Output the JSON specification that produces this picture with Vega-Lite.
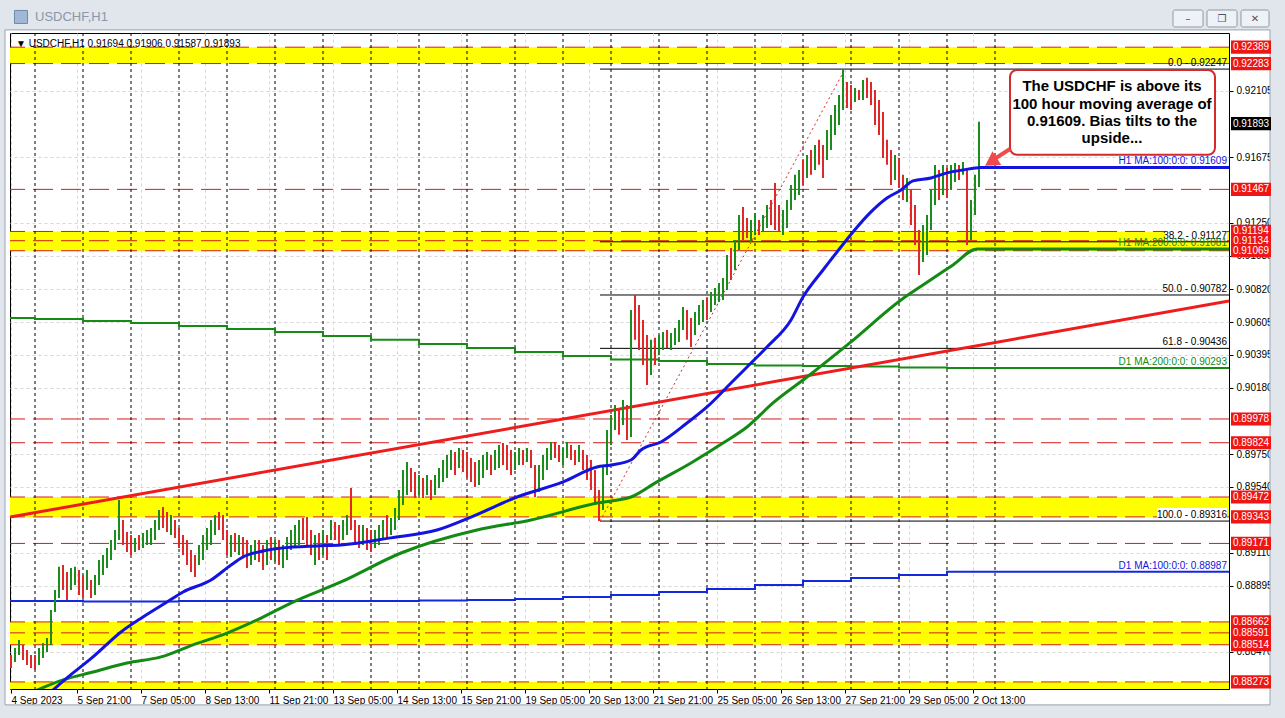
{
"$schema":"https://vega.github.io/schema/vega-lite/v6.json",
"width":1219,"height":656,
"autosize":{"type":"none"},
"padding":{"left":10,"top":33,"right":56,"bottom":29},
"background":"white",
"view":{"stroke":"#000000","strokeWidth":1},
"resolve":{"scale":{"color":"independent"},"axis":{"x":"independent","y":"independent"}},
"datasets":{
"bars":[
{"i":0,"h":0.88448,"l":0.88363,"d":0},{"i":2,"h":0.88493,"l":0.88402,"d":1},{"i":4,"h":0.88545,"l":0.88448,"d":1},{"i":6,"h":0.88513,"l":0.88415,"d":0},{"i":8,"h":0.8848,"l":0.88383,"d":0},{"i":10,"h":0.88448,"l":0.88363,"d":0},{"i":12,"h":0.88448,"l":0.8835,"d":0},{"i":14,"h":0.88493,"l":0.88383,"d":1},{"i":16,"h":0.88526,"l":0.88428,"d":1},{"i":18,"h":0.88558,"l":0.88467,"d":1},
{"i":20,"h":0.8874,"l":0.88513,"d":1},{"i":22,"h":0.88869,"l":0.88727,"d":1},{"i":24,"h":0.89019,"l":0.88817,"d":1},{"i":26,"h":0.89031,"l":0.88869,"d":0},{"i":28,"h":0.88986,"l":0.88804,"d":0},{"i":30,"h":0.89012,"l":0.88869,"d":1},{"i":32,"h":0.89019,"l":0.88902,"d":1},{"i":34,"h":0.88999,"l":0.88837,"d":0},{"i":36,"h":0.88967,"l":0.88817,"d":0},{"i":38,"h":0.88999,"l":0.88869,"d":1},
{"i":40,"h":0.88934,"l":0.88817,"d":0},{"i":42,"h":0.88967,"l":0.88837,"d":1},{"i":44,"h":0.89064,"l":0.88902,"d":1},{"i":46,"h":0.89096,"l":0.88967,"d":1},{"i":48,"h":0.89142,"l":0.89012,"d":1},{"i":50,"h":0.89194,"l":0.89064,"d":1},{"i":52,"h":0.89258,"l":0.89129,"d":1},{"i":54,"h":0.89453,"l":0.89194,"d":1},{"i":56,"h":0.89323,"l":0.89161,"d":0},{"i":58,"h":0.89245,"l":0.89116,"d":0},
{"i":60,"h":0.89226,"l":0.89096,"d":0},{"i":62,"h":0.89207,"l":0.89116,"d":1},{"i":64,"h":0.89226,"l":0.89129,"d":0},{"i":66,"h":0.89239,"l":0.89142,"d":1},{"i":68,"h":0.89258,"l":0.89161,"d":1},{"i":70,"h":0.89271,"l":0.89161,"d":1},{"i":72,"h":0.89323,"l":0.89194,"d":1},{"i":74,"h":0.89388,"l":0.89258,"d":1},{"i":76,"h":0.89407,"l":0.89271,"d":0},{"i":78,"h":0.89375,"l":0.89245,"d":0},
{"i":80,"h":0.89355,"l":0.89226,"d":1},{"i":82,"h":0.89323,"l":0.89207,"d":0},{"i":84,"h":0.89271,"l":0.89142,"d":0},{"i":86,"h":0.89226,"l":0.89096,"d":0},{"i":88,"h":0.89194,"l":0.89031,"d":0},{"i":90,"h":0.89129,"l":0.88986,"d":0},{"i":92,"h":0.89096,"l":0.88954,"d":0},{"i":94,"h":0.89161,"l":0.89031,"d":1},{"i":96,"h":0.89226,"l":0.89064,"d":1},{"i":98,"h":0.89271,"l":0.89129,"d":1},
{"i":100,"h":0.89323,"l":0.89161,"d":1},{"i":102,"h":0.89355,"l":0.89226,"d":1},{"i":104,"h":0.89375,"l":0.89258,"d":0},{"i":106,"h":0.89355,"l":0.89194,"d":0},{"i":108,"h":0.89258,"l":0.89096,"d":0},{"i":110,"h":0.89226,"l":0.89083,"d":1},{"i":112,"h":0.89239,"l":0.89116,"d":0},{"i":114,"h":0.89226,"l":0.89096,"d":1},{"i":116,"h":0.89213,"l":0.89077,"d":0},{"i":118,"h":0.89194,"l":0.89012,"d":0},
{"i":120,"h":0.89161,"l":0.89031,"d":1},{"i":122,"h":0.89194,"l":0.89064,"d":1},{"i":124,"h":0.89194,"l":0.89051,"d":0},{"i":126,"h":0.89161,"l":0.88999,"d":0},{"i":128,"h":0.89194,"l":0.89031,"d":1},{"i":130,"h":0.89213,"l":0.89064,"d":0},{"i":132,"h":0.89194,"l":0.89051,"d":1},{"i":134,"h":0.89194,"l":0.89031,"d":0},{"i":136,"h":0.89161,"l":0.89012,"d":1},{"i":138,"h":0.89213,"l":0.89064,"d":1},
{"i":140,"h":0.89258,"l":0.89129,"d":1},{"i":142,"h":0.89291,"l":0.89142,"d":1},{"i":144,"h":0.89323,"l":0.89161,"d":1},{"i":146,"h":0.89336,"l":0.89194,"d":0},{"i":148,"h":0.89342,"l":0.89161,"d":0},{"i":150,"h":0.89258,"l":0.89096,"d":0},{"i":152,"h":0.89226,"l":0.89031,"d":1},{"i":154,"h":0.89239,"l":0.89064,"d":0},{"i":156,"h":0.89258,"l":0.89096,"d":1},{"i":158,"h":0.89226,"l":0.89064,"d":0},
{"i":160,"h":0.89323,"l":0.89194,"d":1},{"i":162,"h":0.8931,"l":0.89194,"d":0},{"i":164,"h":0.89291,"l":0.89161,"d":0},{"i":166,"h":0.89323,"l":0.89194,"d":1},{"i":168,"h":0.89355,"l":0.89226,"d":1},{"i":170,"h":0.8953,"l":0.89258,"d":0},{"i":172,"h":0.89323,"l":0.89161,"d":0},{"i":174,"h":0.89291,"l":0.89142,"d":0},{"i":176,"h":0.89291,"l":0.89161,"d":1},{"i":178,"h":0.89271,"l":0.89129,"d":0},
{"i":180,"h":0.89258,"l":0.89116,"d":0},{"i":182,"h":0.89258,"l":0.89142,"d":1},{"i":184,"h":0.89291,"l":0.89161,"d":1},{"i":186,"h":0.89323,"l":0.89194,"d":1},{"i":188,"h":0.89355,"l":0.89207,"d":0},{"i":190,"h":0.89336,"l":0.89226,"d":1},{"i":192,"h":0.89401,"l":0.89258,"d":1},{"i":194,"h":0.89518,"l":0.89323,"d":1},{"i":196,"h":0.89647,"l":0.8942,"d":1},{"i":198,"h":0.89699,"l":0.89485,"d":1},
{"i":200,"h":0.8966,"l":0.89505,"d":0},{"i":202,"h":0.89634,"l":0.89466,"d":0},{"i":204,"h":0.89615,"l":0.89485,"d":1},{"i":206,"h":0.89595,"l":0.89466,"d":0},{"i":208,"h":0.89615,"l":0.89485,"d":1},{"i":210,"h":0.89583,"l":0.89453,"d":0},{"i":212,"h":0.89615,"l":0.89485,"d":1},{"i":214,"h":0.8966,"l":0.8953,"d":1},{"i":216,"h":0.89712,"l":0.8957,"d":1},{"i":218,"h":0.89745,"l":0.89595,"d":1},
{"i":220,"h":0.89777,"l":0.89647,"d":1},{"i":222,"h":0.89764,"l":0.89615,"d":0},{"i":224,"h":0.8979,"l":0.8966,"d":1},{"i":226,"h":0.89777,"l":0.89634,"d":0},{"i":228,"h":0.89764,"l":0.89595,"d":0},{"i":230,"h":0.89725,"l":0.8957,"d":0},{"i":232,"h":0.89699,"l":0.89537,"d":0},{"i":234,"h":0.89712,"l":0.8955,"d":1},{"i":236,"h":0.89745,"l":0.89595,"d":1},{"i":238,"h":0.89764,"l":0.89647,"d":1},
{"i":240,"h":0.89745,"l":0.89615,"d":0},{"i":242,"h":0.89777,"l":0.89647,"d":1},{"i":244,"h":0.89809,"l":0.8966,"d":1},{"i":246,"h":0.89822,"l":0.8968,"d":0},{"i":248,"h":0.89809,"l":0.89647,"d":0},{"i":250,"h":0.89777,"l":0.89615,"d":0},{"i":252,"h":0.89764,"l":0.89647,"d":1},{"i":254,"h":0.8979,"l":0.8968,"d":1},{"i":256,"h":0.89777,"l":0.8968,"d":0},{"i":258,"h":0.8979,"l":0.89699,"d":1},
{"i":260,"h":0.89777,"l":0.8966,"d":0},{"i":262,"h":0.8968,"l":0.89472,"d":0},{"i":264,"h":0.8968,"l":0.89505,"d":1},{"i":266,"h":0.89745,"l":0.89583,"d":1},{"i":268,"h":0.8979,"l":0.89647,"d":1},{"i":270,"h":0.89829,"l":0.89712,"d":1},{"i":272,"h":0.89829,"l":0.89725,"d":0},{"i":274,"h":0.89809,"l":0.89699,"d":0},{"i":276,"h":0.8979,"l":0.8968,"d":1},{"i":278,"h":0.89829,"l":0.89725,"d":1},
{"i":280,"h":0.89809,"l":0.89712,"d":0},{"i":282,"h":0.89777,"l":0.8968,"d":0},{"i":284,"h":0.89809,"l":0.89699,"d":1},{"i":286,"h":0.89777,"l":0.89647,"d":0},{"i":288,"h":0.89745,"l":0.89583,"d":0},{"i":290,"h":0.89712,"l":0.89518,"d":0},{"i":292,"h":0.89647,"l":0.8942,"d":0},{"i":294,"h":0.89518,"l":0.89316,"d":0},{"i":296,"h":0.8968,"l":0.89388,"d":1},{"i":298,"h":0.89907,"l":0.89615,"d":1},
{"i":300,"h":0.90004,"l":0.89809,"d":1},{"i":302,"h":0.90069,"l":0.89907,"d":1},{"i":304,"h":0.90037,"l":0.89875,"d":0},{"i":306,"h":0.90101,"l":0.89939,"d":1},{"i":308,"h":0.90069,"l":0.89842,"d":0},{"i":310,"h":0.90685,"l":0.89861,"d":1},{"i":312,"h":0.90782,"l":0.90491,"d":0},{"i":314,"h":0.90717,"l":0.90426,"d":0},{"i":316,"h":0.9062,"l":0.90328,"d":0},{"i":318,"h":0.90523,"l":0.90199,"d":0},
{"i":320,"h":0.90491,"l":0.90263,"d":1},{"i":322,"h":0.90504,"l":0.90328,"d":0},{"i":324,"h":0.90523,"l":0.90393,"d":1},{"i":326,"h":0.90542,"l":0.90426,"d":1},{"i":328,"h":0.90555,"l":0.90438,"d":0},{"i":330,"h":0.90536,"l":0.90426,"d":1},{"i":332,"h":0.90568,"l":0.90458,"d":1},{"i":334,"h":0.9062,"l":0.90478,"d":1},{"i":336,"h":0.90704,"l":0.90555,"d":1},{"i":338,"h":0.90685,"l":0.90491,"d":0},
{"i":340,"h":0.90633,"l":0.90445,"d":0},{"i":342,"h":0.90672,"l":0.90523,"d":1},{"i":344,"h":0.90717,"l":0.90588,"d":1},{"i":346,"h":0.9075,"l":0.90607,"d":1},{"i":348,"h":0.90763,"l":0.9062,"d":0},{"i":350,"h":0.90802,"l":0.90672,"d":1},{"i":352,"h":0.90828,"l":0.90717,"d":1},{"i":354,"h":0.9086,"l":0.90737,"d":1},{"i":356,"h":0.90893,"l":0.9075,"d":1},{"i":358,"h":0.91042,"l":0.90815,"d":1},
{"i":360,"h":0.91087,"l":0.9088,"d":0},{"i":362,"h":0.91139,"l":0.90944,"d":1},{"i":364,"h":0.91301,"l":0.91074,"d":1},{"i":366,"h":0.91353,"l":0.91139,"d":0},{"i":368,"h":0.91282,"l":0.91152,"d":0},{"i":370,"h":0.91269,"l":0.91126,"d":1},{"i":372,"h":0.91314,"l":0.91171,"d":1},{"i":374,"h":0.91269,"l":0.91171,"d":0},{"i":376,"h":0.91301,"l":0.91191,"d":1},{"i":378,"h":0.91366,"l":0.91217,"d":1},
{"i":380,"h":0.91398,"l":0.91236,"d":0},{"i":382,"h":0.91509,"l":0.91204,"d":0},{"i":384,"h":0.91366,"l":0.91191,"d":0},{"i":386,"h":0.91334,"l":0.91171,"d":1},{"i":388,"h":0.91398,"l":0.91217,"d":1},{"i":390,"h":0.91496,"l":0.91334,"d":1},{"i":392,"h":0.91561,"l":0.91398,"d":1},{"i":394,"h":0.91593,"l":0.91431,"d":1},{"i":396,"h":0.91658,"l":0.91496,"d":0},{"i":398,"h":0.9169,"l":0.91541,"d":1},
{"i":400,"h":0.91723,"l":0.91561,"d":0},{"i":402,"h":0.91755,"l":0.91593,"d":1},{"i":404,"h":0.91788,"l":0.91626,"d":0},{"i":406,"h":0.91755,"l":0.91541,"d":0},{"i":408,"h":0.91852,"l":0.91658,"d":1},{"i":410,"h":0.9195,"l":0.91723,"d":1},{"i":412,"h":0.92014,"l":0.9182,"d":1},{"i":414,"h":0.92079,"l":0.91885,"d":1},{"i":416,"h":0.92247,"l":0.91982,"d":1},{"i":418,"h":0.92164,"l":0.91995,"d":0},
{"i":420,"h":0.92144,"l":0.91982,"d":0},{"i":422,"h":0.92125,"l":0.92034,"d":1},{"i":424,"h":0.92112,"l":0.92047,"d":0},{"i":426,"h":0.92177,"l":0.92047,"d":1},{"i":428,"h":0.9219,"l":0.9206,"d":0},{"i":430,"h":0.92164,"l":0.92014,"d":0},{"i":432,"h":0.92112,"l":0.91885,"d":0},{"i":434,"h":0.92047,"l":0.9182,"d":0},{"i":436,"h":0.91969,"l":0.91671,"d":0},{"i":438,"h":0.91788,"l":0.91626,"d":0},
{"i":440,"h":0.91723,"l":0.91496,"d":0},{"i":442,"h":0.9169,"l":0.91528,"d":1},{"i":444,"h":0.91671,"l":0.91476,"d":0},{"i":446,"h":0.91561,"l":0.91398,"d":0},{"i":448,"h":0.91541,"l":0.91385,"d":1},{"i":450,"h":0.91463,"l":0.91236,"d":0},{"i":452,"h":0.91366,"l":0.91106,"d":0},{"i":454,"h":0.91204,"l":0.90912,"d":0},{"i":456,"h":0.91236,"l":0.90996,"d":1},{"i":458,"h":0.91301,"l":0.91042,"d":1},
{"i":460,"h":0.91463,"l":0.91204,"d":1},{"i":462,"h":0.91625,"l":0.91366,"d":1},{"i":464,"h":0.91593,"l":0.91398,"d":0},{"i":466,"h":0.91625,"l":0.91431,"d":1},{"i":468,"h":0.91606,"l":0.91411,"d":0},{"i":470,"h":0.91625,"l":0.91463,"d":1},{"i":472,"h":0.91638,"l":0.91515,"d":1},{"i":474,"h":0.91625,"l":0.91528,"d":0},{"i":476,"h":0.91645,"l":0.91561,"d":1},{"i":478,"h":0.91593,"l":0.91106,"d":0},
{"i":480,"h":0.91398,"l":0.91139,"d":1},{"i":482,"h":0.91561,"l":0.91301,"d":1},{"i":484,"h":0.91906,"l":0.91483,"d":1}
],
"ma100":[{"i":21,"p":0.8822},{"i":28,"p":0.88299},{"i":41,"p":0.88435},{"i":55,"p":0.88597},{"i":66,"p":0.88694},{"i":78,"p":0.88791},{"i":86,"p":0.88856},{"i":100,"p":0.88934},{"i":110,"p":0.89031},{"i":116,"p":0.89083},{"i":126,"p":0.89122},{"i":141,"p":0.89148},{"i":153,"p":0.89155},{"i":165,"p":0.89161},{"i":190,"p":0.89207},{"i":213,"p":0.89258},{"i":230,"p":0.89342},{"i":253,"p":0.89472},{"i":276,"p":0.8957},{"i":293,"p":0.89667},{"i":300,"p":0.8968},{"i":310,"p":0.89712},{"i":315,"p":0.89777},{"i":325,"p":0.89829},{"i":338,"p":0.89952},{"i":348,"p":0.90056},{"i":360,"p":0.90211},{"i":370,"p":0.90341},{"i":378,"p":0.90445},{"i":390,"p":0.9062},{"i":396,"p":0.90769},{"i":406,"p":0.90944},{"i":413,"p":0.91061},{"i":421,"p":0.91191},{"i":430,"p":0.91321},{"i":438,"p":0.91411},{"i":445,"p":0.91463},{"i":451,"p":0.91522},{"i":460,"p":0.91541},{"i":468,"p":0.91574},{"i":476,"p":0.91593},{"i":485,"p":0.91609},{"i":609,"p":0.91609}],
"ma200":[{"i":13,"p":0.8822},{"i":26,"p":0.88286},{"i":41,"p":0.88337},{"i":58,"p":0.88396},{"i":75,"p":0.88435},{"i":91,"p":0.88513},{"i":108,"p":0.8859},{"i":125,"p":0.88687},{"i":141,"p":0.88791},{"i":165,"p":0.88921},{"i":195,"p":0.89109},{"i":233,"p":0.89258},{"i":260,"p":0.89323},{"i":293,"p":0.89433},{"i":310,"p":0.89472},{"i":323,"p":0.8957},{"i":340,"p":0.89693},{"i":356,"p":0.89822},{"i":368,"p":0.89926},{"i":381,"p":0.90082},{"i":398,"p":0.9025},{"i":420,"p":0.90478},{"i":445,"p":0.9075},{"i":456,"p":0.90847},{"i":471,"p":0.90977},{"i":483,"p":0.91081},{"i":609,"p":0.91081}],
"d200":[{"i":-0.5,"p":0.90633},{"i":12,"p":0.90627},{"i":36,"p":0.90614},{"i":60,"p":0.90601},{"i":84,"p":0.90581},{"i":108,"p":0.90562},{"i":132,"p":0.90542},{"i":156,"p":0.90516},{"i":180,"p":0.90491},{"i":204,"p":0.90465},{"i":228,"p":0.90439},{"i":252,"p":0.90413},{"i":276,"p":0.90387},{"i":300,"p":0.90364},{"i":324,"p":0.90354},{"i":348,"p":0.90335},{"i":372,"p":0.90325},{"i":396,"p":0.90322},{"i":420,"p":0.90319},{"i":444,"p":0.90312},{"i":468,"p":0.90309},{"i":609,"p":0.90309}],
"d100":[{"i":-0.5,"p":0.88798},{"i":36,"p":0.88795},{"i":84,"p":0.88798},{"i":204,"p":0.88801},{"i":228,"p":0.88804},{"i":252,"p":0.88811},{"i":276,"p":0.88824},{"i":300,"p":0.88837},{"i":324,"p":0.88856},{"i":348,"p":0.88876},{"i":372,"p":0.88902},{"i":396,"p":0.88928},{"i":420,"p":0.88947},{"i":444,"p":0.88967},{"i":468,"p":0.88987},{"i":609,"p":0.88987}],
"trend":[{"i":-0.5,"p":0.89342},{"i":609,"p":0.90743}],
"levels":[{"p":0.92389},{"p":0.92283},{"p":0.91467},{"p":0.91194},{"p":0.91134},{"p":0.91069},{"p":0.89978},{"p":0.89824},{"p":0.89472},{"p":0.89343},{"p":0.89171},{"p":0.88662},{"p":0.88591},{"p":0.88514},{"p":0.88273}],
"bands":[{"p":0.92283,"p2":0.92389},{"p":0.91069,"p2":0.91194},{"p":0.89343,"p2":0.89472},{"p":0.88514,"p2":0.88662},{"p":0.8815,"p2":0.88273}],
"fib":[{"p":0.92247},{"p":0.91127},{"p":0.90782},{"p":0.90436},{"p":0.89316}],
"seps":[{"i":12},{"i":36},{"i":60},{"i":84},{"i":108},{"i":132},{"i":156},{"i":180},{"i":204},{"i":228},{"i":252},{"i":276},{"i":300},{"i":324},{"i":348},{"i":372},{"i":396},{"i":420},{"i":444},{"i":468},{"i":492}],
"labels":[{"t":"0.0 - 0.92247","p":0.92247,"k":"fib"},{"t":"38.2 - 0.91127","p":0.91127,"k":"fib"},{"t":"50.0 - 0.90782","p":0.90782,"k":"fib"},{"t":"61.8 - 0.90436","p":0.90436,"k":"fib"},{"t":"100.0 - 0.89316","p":0.89316,"k":"fib"},{"t":"H1 MA:100:0:0: 0.91609","p":0.91609,"k":"h100"},{"t":"H1 MA:200:0:0: 0.91081","p":0.91081,"k":"h200"},{"t":"D1 MA:200:0:0: 0.90293","p":0.90309,"k":"d200"},{"t":"D1 MA:100:0:0: 0.88987","p":0.88987,"k":"d100"}],
"buttons":[{"a":581,"b":596},{"a":598,"b":613},{"a":615,"b":629}]
},
"layer":[
{"data":{"values":[{}]},"mark":{"type":"rect","fill":"#e1e6ec","clip":false},
 "encoding":{"x":{"datum":-8,"type":"quantitative","scale":{"domain":[-0.5,609],"nice":false},"axis":null},"x2":{"datum":640},
  "y":{"datum":0.92501,"type":"quantitative","scale":{"domain":[0.88227,0.92481],"nice":false},"axis":null},"y2":{"datum":0.9275}}},
{"data":{"values":[{}]},"mark":{"type":"rect","fill":"#e1e6ec","clip":false},
 "encoding":{"x":{"datum":-8,"type":"quantitative","scale":{"domain":[-0.5,609],"nice":false},"axis":null},"x2":{"datum":640},
  "y":{"datum":0.8795,"type":"quantitative","scale":{"domain":[0.88227,0.92481],"nice":false},"axis":null},"y2":{"datum":0.88124}}},
{"data":{"values":[{}]},"mark":{"type":"rect","fill":"#e1e6ec","clip":false},
 "encoding":{"x":{"datum":-8,"type":"quantitative","scale":{"domain":[-0.5,609],"nice":false},"axis":null},"x2":{"datum":-3},
  "y":{"datum":0.8795,"type":"quantitative","scale":{"domain":[0.88227,0.92481],"nice":false},"axis":null},"y2":{"datum":0.9275}}},
{"data":{"values":[{}]},"mark":{"type":"rect","fill":"#e1e6ec","clip":false},
 "encoding":{"x":{"datum":629.5,"type":"quantitative","scale":{"domain":[-0.5,609],"nice":false},"axis":null},"x2":{"datum":640},
  "y":{"datum":0.8795,"type":"quantitative","scale":{"domain":[0.88227,0.92481],"nice":false},"axis":null},"y2":{"datum":0.9275}}},
{"data":{"values":[{}]},"mark":{"type":"rect","fill":null,"stroke":"#9aa3ae","strokeWidth":1,"clip":false},
 "encoding":{"x":{"datum":-3,"type":"quantitative","scale":{"domain":[-0.5,609],"nice":false},"axis":null},"x2":{"datum":629.5},
  "y":{"datum":0.88124,"type":"quantitative","scale":{"domain":[0.88227,0.92481],"nice":false},"axis":null},"y2":{"datum":0.92501}}},
{"data":{"name":"buttons"},"mark":{"type":"rect","fill":"#eef1f5","stroke":"#8e99a8","strokeWidth":1,"cornerRadius":2,"clip":false},
 "encoding":{"x":{"field":"a","type":"quantitative","scale":{"domain":[-0.5,609],"nice":false},"axis":null},"x2":{"field":"b"},
  "y":{"datum":0.9252,"type":"quantitative","scale":{"domain":[0.88227,0.92481],"nice":false},"axis":null},"y2":{"datum":0.9263}}},
{"data":{"values":[{"a":588.5,"t":"–"},{"a":605.5,"t":"❐"},{"a":622,"t":"✕"}]},"mark":{"type":"text","color":"#4a5564","font":"DejaVu Sans","fontSize":10,"align":"center","baseline":"middle","clip":false},
 "encoding":{"x":{"field":"a","type":"quantitative","scale":{"domain":[-0.5,609],"nice":false},"axis":null},
  "y":{"datum":0.92575,"type":"quantitative","scale":{"domain":[0.88227,0.92481],"nice":false},"axis":null},"text":{"field":"t"}}},
{"data":{"values":[{}]},"mark":{"type":"point","shape":"square","size":170,"filled":true,"fill":"#9fb8d6","stroke":"#6f8aab","strokeWidth":1,"opacity":1,"clip":false},
 "encoding":{"x":{"datum":5,"type":"quantitative","scale":{"domain":[-0.5,609],"nice":false},"axis":null},
  "y":{"datum":0.92585,"type":"quantitative","scale":{"domain":[0.88227,0.92481],"nice":false},"axis":null}}},
{"data":{"name":"bands"},"mark":{"type":"rect","color":"#ffff00","clip":true},
 "encoding":{"y":{"field":"p","type":"quantitative","scale":{"domain":[0.88227,0.92481],"nice":false},"axis":null},"y2":{"field":"p2"}}},
{"data":{"name":"levels"},"mark":{"type":"rule","color":"#d41c1c","strokeWidth":1,"strokeDash":[20,8]},
 "encoding":{"y":{"field":"p","type":"quantitative","scale":{"domain":[0.88227,0.92481],"nice":false},"axis":null}}},
{"data":{"name":"seps"},"mark":{"type":"rule","color":"#000000","strokeWidth":1,"strokeDash":[3,3]},
 "encoding":{"x":{"field":"i","type":"quantitative","scale":{"domain":[-0.5,609],"nice":false},"axis":null}}},
{"data":{"name":"fib"},"mark":{"type":"rule","color":"#000000","strokeWidth":1},
 "encoding":{"x":{"datum":294.5,"type":"quantitative","scale":{"domain":[-0.5,609],"nice":false},"axis":null},"x2":{"datum":609},
  "y":{"field":"p","type":"quantitative","scale":{"domain":[0.88227,0.92481],"nice":false},"axis":null}}},
{"data":{"values":[{}]},"mark":{"type":"rule","color":"#e02020","strokeWidth":1,"strokeDash":[2,3]},
 "encoding":{"x":{"datum":294.5,"type":"quantitative","scale":{"domain":[-0.5,609],"nice":false},"axis":null},"x2":{"datum":417},
  "y":{"datum":0.89316,"type":"quantitative","scale":{"domain":[0.88227,0.92481],"nice":false},"axis":null},"y2":{"datum":0.92247}}},
{"data":{"name":"d100"},"mark":{"type":"line","color":"#1428dc","strokeWidth":2,"interpolate":"step-after","clip":true},
 "encoding":{"x":{"field":"i","type":"quantitative","scale":{"domain":[-0.5,609],"nice":false},"axis":null},
  "y":{"field":"p","type":"quantitative","scale":{"domain":[0.88227,0.92481],"nice":false},"axis":null}}},
{"data":{"name":"d200"},"mark":{"type":"line","color":"#168c16","strokeWidth":2,"interpolate":"step-after","clip":true},
 "encoding":{"x":{"field":"i","type":"quantitative","scale":{"domain":[-0.5,609],"nice":false},"axis":null},
  "y":{"field":"p","type":"quantitative","scale":{"domain":[0.88227,0.92481],"nice":false},"axis":null}}},
{"data":{"name":"trend"},"mark":{"type":"line","color":"#ee1c1c","strokeWidth":3,"clip":true},
 "encoding":{"x":{"field":"i","type":"quantitative","scale":{"domain":[-0.5,609],"nice":false},"axis":null},
  "y":{"field":"p","type":"quantitative","scale":{"domain":[0.88227,0.92481],"nice":false},"axis":null}}},
{"data":{"name":"bars"},"mark":{"type":"rule","strokeWidth":2,"clip":true},
 "encoding":{
  "x":{"field":"i","type":"quantitative","scale":{"domain":[-0.5,609],"nice":false},
   "axis":{"values":[0,33,65,97,129,161,193,225,257,289,321,353,385,417,449,481],
    "labelExpr":"['4 Sep 2023','5 Sep 21:00','7 Sep 05:00','8 Sep 13:00','11 Sep 21:00','13 Sep 05:00','14 Sep 13:00','15 Sep 21:00','19 Sep 05:00','20 Sep 13:00','21 Sep 21:00','25 Sep 05:00','26 Sep 13:00','27 Sep 21:00','29 Sep 05:00','2 Oct 13:00'][indexof([0,33,65,97,129,161,193,225,257,289,321,353,385,417,449,481], datum.value)]",
    "title":null,"grid":true,"gridColor":"#d6d6d6","gridDash":[3,3],"tickSize":4,"tickColor":"#000000","labelAlign":"left","labelBaseline":"top","labelPadding":2,"labelFontSize":10,"labelFont":"Liberation Sans","labelColor":"#000000","labelFlush":false,"labelOverlap":false,"domain":false}},
  "y":{"field":"l","type":"quantitative","scale":{"domain":[0.88227,0.92481],"nice":false},
   "axis":{"orient":"right","values":[0.92105,0.91675,0.9125,0.91035,0.9082,0.90605,0.90395,0.9018,0.8975,0.8954,0.8911,0.88895,0.8847],
    "format":".5f","title":null,"grid":true,"gridColor":"#d6d6d6","gridDash":[3,3],"tickSize":4,"tickColor":"#000000","labelPadding":3,"labelFontSize":10,"labelFont":"Liberation Sans","labelColor":"#000000","labelFlush":false,"labelOverlap":false,"domain":false}},
  "y2":{"field":"h"},
  "color":{"field":"d","type":"nominal","scale":{"domain":[0,1],"range":["#e02828","#1c8c1c"]},"legend":null}}},
{"data":{"name":"ma200"},"mark":{"type":"line","color":"#138a13","strokeWidth":3,"interpolate":"monotone","clip":true},
 "encoding":{"x":{"field":"i","type":"quantitative","scale":{"domain":[-0.5,609],"nice":false},"axis":null},
  "y":{"field":"p","type":"quantitative","scale":{"domain":[0.88227,0.92481],"nice":false},"axis":null}}},
{"data":{"name":"ma100"},"mark":{"type":"line","color":"#1414e0","strokeWidth":3,"interpolate":"monotone","clip":true},
 "encoding":{"x":{"field":"i","type":"quantitative","scale":{"domain":[-0.5,609],"nice":false},"axis":null},
  "y":{"field":"p","type":"quantitative","scale":{"domain":[0.88227,0.92481],"nice":false},"axis":null}}},
{"data":{"values":[{"p":0.91127}]},"mark":{"type":"point","shape":"M-1,-0.42H1V-0.03H-1Z","size":3844,"filled":true,"fill":"#ffffff","strokeWidth":0,"opacity":1},
 "encoding":{"x":{"datum":592.5,"type":"quantitative","scale":{"domain":[-0.5,609],"nice":false},"axis":null},
  "y":{"field":"p","type":"quantitative","scale":{"domain":[0.88227,0.92481],"nice":false},"axis":null}}},
{"data":{"values":[{"p":0.89316}]},"mark":{"type":"point","shape":"M-1,-0.37H1V-0.03H-1Z","size":4900,"filled":true,"fill":"#ffffff","strokeWidth":0,"opacity":1},
 "encoding":{"x":{"datum":590.5,"type":"quantitative","scale":{"domain":[-0.5,609],"nice":false},"axis":null},
  "y":{"field":"p","type":"quantitative","scale":{"domain":[0.88227,0.92481],"nice":false},"axis":null}}},
{"data":{"name":"labels"},"mark":{"type":"text","align":"right","baseline":"bottom","dy":-1,"font":"Liberation Sans","fontSize":10},
 "encoding":{"x":{"datum":608,"type":"quantitative","scale":{"domain":[-0.5,609],"nice":false},"axis":null},
  "y":{"field":"p","type":"quantitative","scale":{"domain":[0.88227,0.92481],"nice":false},"axis":null},
  "text":{"field":"t"},
  "color":{"field":"k","type":"nominal","scale":{"domain":["fib","h100","h200","d200","d100"],"range":["#000000","#1414e0","#138a13","#138a13","#1414e0"]},"legend":null}}},
{"data":{"name":"levels"},"mark":{"type":"point","shape":"M-1,-0.33H1V0.33H-1Z","size":1600,"filled":true,"fill":"#ee1515","strokeWidth":0,"opacity":1,"clip":false},
 "encoding":{"x":{"datum":620,"type":"quantitative","scale":{"domain":[-0.5,609],"nice":false},"axis":null},
  "y":{"field":"p","type":"quantitative","scale":{"domain":[0.88227,0.92481],"nice":false},"axis":null}}},
{"data":{"name":"levels"},"mark":{"type":"text","color":"#ffffff","font":"Liberation Sans","fontSize":10,"align":"center","baseline":"middle"},
 "encoding":{"x":{"datum":620,"type":"quantitative","scale":{"domain":[-0.5,609],"nice":false},"axis":null},
  "y":{"field":"p","type":"quantitative","scale":{"domain":[0.88227,0.92481],"nice":false},"axis":null},
  "text":{"field":"p","type":"quantitative","format":".5f"}}},
{"data":{"values":[{"p":0.91893}]},"mark":{"type":"point","shape":"M-1,-0.33H1V0.33H-1Z","size":1600,"filled":true,"fill":"#000000","strokeWidth":0,"opacity":1,"clip":false},
 "encoding":{"x":{"datum":620,"type":"quantitative","scale":{"domain":[-0.5,609],"nice":false},"axis":null},
  "y":{"field":"p","type":"quantitative","scale":{"domain":[0.88227,0.92481],"nice":false},"axis":null}}},
{"data":{"values":[{"p":0.91893}]},"mark":{"type":"text","color":"#ffffff","font":"Liberation Sans","fontSize":10,"align":"center","baseline":"middle"},
 "encoding":{"x":{"datum":620,"type":"quantitative","scale":{"domain":[-0.5,609],"nice":false},"axis":null},
  "y":{"field":"p","type":"quantitative","scale":{"domain":[0.88227,0.92481],"nice":false},"axis":null},
  "text":{"field":"p","type":"quantitative","format":".5f"}}},
{"data":{"values":[{"t":"▼ USDCHF,H1  0.91694 0.91906 0.91587 0.91893"}]},"mark":{"type":"text","color":"#000000","font":"Liberation Sans","fontSize":10,"align":"left","baseline":"middle"},
 "encoding":{"x":{"datum":2.5,"type":"quantitative","scale":{"domain":[-0.5,609],"nice":false},"axis":null},
  "y":{"datum":0.92407,"type":"quantitative","scale":{"domain":[0.88227,0.92481],"nice":false},"axis":null},
  "text":{"field":"t"}}},
{"data":{"values":[{}]},"mark":{"type":"rect","fill":"#ffffff","stroke":"#d42a2a","strokeWidth":2,"cornerRadius":7,"clip":false},
 "encoding":{"x":{"datum":499.5,"type":"quantitative","scale":{"domain":[-0.5,609],"nice":false},"axis":null},"x2":{"datum":602},
  "y":{"datum":0.92241,"type":"quantitative","scale":{"domain":[0.88227,0.92481],"nice":false},"axis":null},"y2":{"datum":0.91691}}},
{"data":{"values":[{"t":["The USDCHF is above its","100 hour moving average of","0.91609.  Bias tilts to the","upside..."]}]},
 "mark":{"type":"text","color":"#000000","font":"Liberation Sans","fontSize":15,"fontWeight":"bold","align":"center","baseline":"top","lineHeight":17.3},
 "encoding":{"x":{"datum":550.5,"type":"quantitative","scale":{"domain":[-0.5,609],"nice":false},"axis":null},
  "y":{"datum":0.9218,"type":"quantitative","scale":{"domain":[0.88227,0.92481],"nice":false},"axis":null},
  "text":{"field":"t"}}},
{"data":{"values":[{}]},"mark":{"type":"rule","color":"#f04a4a","strokeWidth":4},
 "encoding":{"x":{"datum":499.5,"type":"quantitative","scale":{"domain":[-0.5,609],"nice":false},"axis":null},"x2":{"datum":491},
  "y":{"datum":0.91729,"type":"quantitative","scale":{"domain":[0.88227,0.92481],"nice":false},"axis":null},"y2":{"datum":0.91658}}},
{"data":{"values":[{}]},"mark":{"type":"point","shape":"triangle-left","size":260,"angle":327,"filled":true,"fill":"#f04a4a","strokeWidth":0,"opacity":1},
 "encoding":{"x":{"datum":490,"type":"quantitative","scale":{"domain":[-0.5,609],"nice":false},"axis":null},
  "y":{"datum":0.91645,"type":"quantitative","scale":{"domain":[0.88227,0.92481],"nice":false},"axis":null}}},
{"data":{"values":[{"t":"USDCHF,H1"}]},"mark":{"type":"text","color":"#8a97aa","font":"Liberation Sans","fontSize":13,"align":"left","baseline":"middle","clip":false},
 "encoding":{"x":{"datum":12,"type":"quantitative","scale":{"domain":[-0.5,609],"nice":false},"axis":null},
  "y":{"datum":0.92585,"type":"quantitative","scale":{"domain":[0.88227,0.92481],"nice":false},"axis":null},
  "text":{"field":"t"}}}
]
}
